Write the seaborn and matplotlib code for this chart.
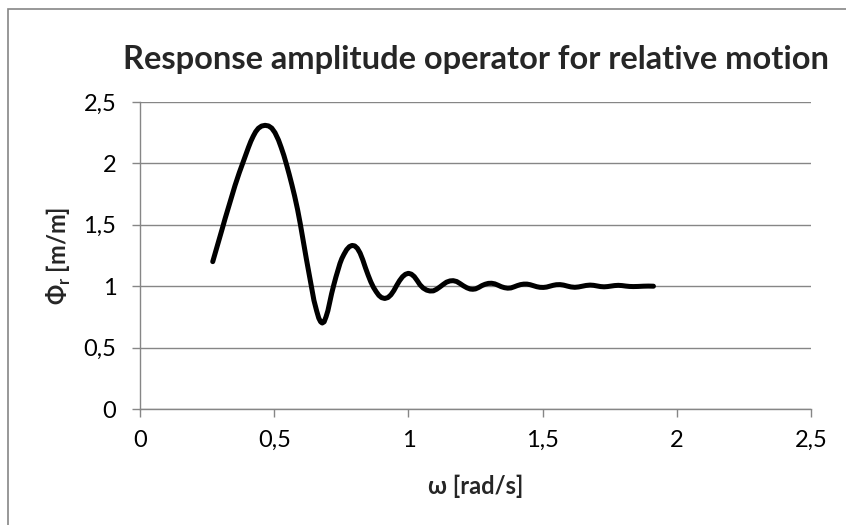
import matplotlib
matplotlib.use("Agg")
import matplotlib.pyplot as plt
import matplotlib.patches as patches
from matplotlib.ticker import FuncFormatter
import seaborn as sns
import pandas as pd

# ===============================
# Data
# ===============================
omega = [0.271, 0.283, 0.295, 0.306, 0.317, 0.336, 0.354, 0.370, 0.385, 0.395,
         0.404, 0.413, 0.422, 0.431, 0.441, 0.453, 0.466, 0.479, 0.491, 0.503,
         0.516, 0.526, 0.536, 0.546, 0.556, 0.566, 0.576, 0.587, 0.597, 0.608,
         0.620, 0.630, 0.638, 0.648, 0.658, 0.666, 0.673, 0.679, 0.686, 0.693,
         0.700, 0.707, 0.714, 0.722, 0.730, 0.738, 0.745, 0.752, 0.760, 0.770,
         0.780, 0.790, 0.800, 0.810, 0.820, 0.830, 0.840, 0.850, 0.860, 0.870,
         0.880, 0.890, 0.900, 0.912, 0.924, 0.935, 0.946, 0.956, 0.967, 0.978,
         0.989, 1.000, 1.011, 1.022, 1.033, 1.043, 1.055, 1.068, 1.080, 1.093,
         1.105, 1.118, 1.130, 1.142, 1.155, 1.167, 1.180, 1.192, 1.205, 1.218,
         1.230, 1.240, 1.250, 1.262, 1.274, 1.286, 1.298, 1.310, 1.322, 1.334,
         1.346, 1.358, 1.370, 1.382, 1.394, 1.406, 1.418, 1.430, 1.442, 1.454,
         1.466, 1.478, 1.490, 1.503, 1.515, 1.527, 1.539, 1.551, 1.565, 1.578,
         1.592, 1.606, 1.620, 1.634, 1.648, 1.662, 1.677, 1.690, 1.703, 1.716,
         1.729, 1.742, 1.755, 1.768, 1.782, 1.796, 1.810, 1.824, 1.838, 1.856,
         1.875, 1.894, 1.913]
rao = [1.20, 1.29, 1.38, 1.465, 1.55, 1.69, 1.82, 1.925, 2.015, 2.075,
       2.13, 2.18, 2.222, 2.258, 2.286, 2.304, 2.31, 2.305, 2.287, 2.25,
       2.19, 2.13, 2.065, 1.99, 1.91, 1.825, 1.735, 1.625, 1.51, 1.37,
       1.22, 1.10, 1.00, 0.885, 0.80, 0.74, 0.71, 0.70, 0.71, 0.75,
       0.80, 0.87, 0.94, 1.01, 1.075, 1.135, 1.185, 1.225, 1.26, 1.298,
       1.322, 1.332, 1.328, 1.308, 1.27, 1.215, 1.15, 1.09, 1.035, 0.99,
       0.955, 0.925, 0.907, 0.90, 0.908, 0.93, 0.965, 1.005, 1.045, 1.077,
       1.097, 1.105, 1.098, 1.078, 1.045, 1.012, 0.985, 0.968, 0.961, 0.962,
       0.975, 0.995, 1.015, 1.033, 1.043, 1.045, 1.038, 1.022, 1.003, 0.987,
       0.977, 0.975, 0.978, 0.99, 1.005, 1.016, 1.023, 1.024, 1.019, 1.008,
       0.996, 0.988, 0.984, 0.986, 0.995, 1.005, 1.013, 1.017, 1.017, 1.012,
       1.004, 0.996, 0.991, 0.99, 0.993, 1.0, 1.007, 1.012, 1.013, 1.009,
       1.001, 0.994, 0.991, 0.994, 1.0, 1.006, 1.009, 1.007, 1.002, 0.997,
       0.995, 0.997, 1.001, 1.005, 1.007, 1.005, 1.001, 0.998, 0.997, 0.998,
       1.0, 1.001, 1.0]

x_ticks = [0, 0.5, 1, 1.5, 2, 2.5]
y_ticks = [0, 0.5, 1, 1.5, 2, 2.5]

df = pd.DataFrame({"omega": omega, "rao": rao})

# ===============================
# Style
# ===============================
sns.set_theme(style="white")
plt.rcParams["font.family"] = ["Lato", "DejaVu Sans"]
plt.rcParams["mathtext.fontset"] = "custom"
plt.rcParams["mathtext.rm"] = "Lato"
plt.rcParams["mathtext.bf"] = "Lato:bold"

grey = "#868686"

fig = plt.figure(figsize=(8.46, 5.25), dpi=100)
ax = fig.add_axes([140 / 846, 1 - 409 / 525, 671 / 846, 307 / 525])

sns.lineplot(data=df, x="omega", y="rao", ax=ax, color="black",
             linewidth=3.6, sort=False, solid_capstyle="round",
             solid_joinstyle="round")

ax.set_xlim(0, 2.5)
ax.set_ylim(0, 2.5)
ax.set_xticks(x_ticks)
ax.set_yticks(y_ticks)
fmt = FuncFormatter(lambda v, p: f"{v:g}".replace(".", ","))
ax.xaxis.set_major_formatter(fmt)
ax.yaxis.set_major_formatter(fmt)

ax.grid(axis="y", color=grey, linewidth=1.0)
ax.grid(axis="x", visible=False)
ax.set_axisbelow(True)

for side in ["top", "right"]:
    ax.spines[side].set_visible(False)
for side in ["left", "bottom"]:
    ax.spines[side].set_color(grey)
    ax.spines[side].set_linewidth(1.0)

ax.tick_params(axis="both", which="major", length=6, width=1.0, color=grey,
               labelsize=17, labelcolor="black", direction="out")
ax.tick_params(axis="x", pad=9, bottom=True)
ax.tick_params(axis="y", pad=11, left=True)

ax.set_title("Response amplitude operator for relative motion",
             fontsize=23.5, fontweight="bold", pad=24)
ax.set_xlabel("ω [rad/s]", fontsize=17, fontweight="bold",
              va="center", ha="center")
ax.xaxis.set_label_coords(0.5, (409 - 486) / 307)
ax.set_ylabel(r"Φ$_\mathbf{r}$ [m/m]", fontsize=17, fontweight="bold",
              va="center", ha="center")
ax.yaxis.set_label_coords((59 - 140) / 671, 0.5)

# chart frame (runs off right and bottom edges like the source)
frame = patches.Rectangle((8 / 846, -0.05), 1.2, (525 - 9) / 525 + 0.05,
                          transform=fig.transFigure, fill=False,
                          edgecolor=grey, linewidth=1.2)
fig.patches.append(frame)

fig.savefig("out.png", dpi=100)
